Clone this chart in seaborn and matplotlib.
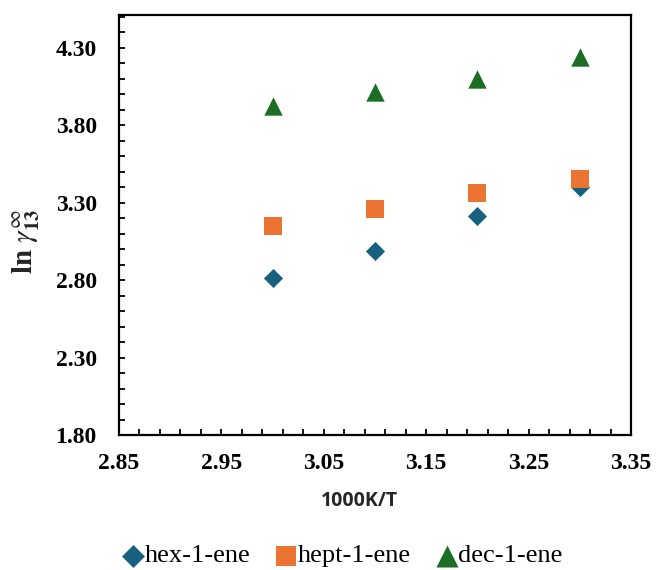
import matplotlib
matplotlib.use("Agg")
import matplotlib.pyplot as plt
from matplotlib.ticker import MultipleLocator, FormatStrFormatter
import seaborn as sns
import pandas as pd

# Reciprocal temperature, 1000 K / T
inv_T = [3.0, 3.1, 3.2, 3.3]

# ln(gamma_13 infinity) for each solute
hex_1_ene = [2.81, 2.99, 3.21, 3.40]
hept_1_ene = [3.15, 3.26, 3.36, 3.45]
dec_1_ene = [3.92, 4.01, 4.10, 4.24]

series = ["hex-1-ene", "hept-1-ene", "dec-1-ene"]

sns.set_theme(style="white")
plt.rcParams["font.family"] = ["Liberation Serif", "DejaVu Serif"]
plt.rcParams["mathtext.fontset"] = "stix"

frames = []
for name, vals in zip(series, [hex_1_ene, hept_1_ene, dec_1_ene]):
    frames.append(pd.DataFrame({"x": inv_T, "y": vals, "solute": name}))
df = pd.concat(frames, ignore_index=True)

styles = {
    "hex-1-ene": dict(marker="D", color="#17607F", s=95),
    "hept-1-ene": dict(marker="s", color="#EC7432", s=150),
    "dec-1-ene": dict(marker="^", color="#1B6E24", s=175),
}

fig = plt.figure(figsize=(6.56, 5.70), dpi=100)
ax = fig.add_axes([0.1814, 0.2368, 0.962 - 0.1814, 0.9737 - 0.2368])

for name in series:
    st = styles[name]
    sns.scatterplot(data=df[df["solute"] == name], x="x", y="y", ax=ax,
                    marker=st["marker"], color=st["color"], s=st["s"],
                    linewidth=0, label=name, legend=False)

ax.set_xlim(2.85, 3.35)
ax.set_ylim(1.80, 4.51)
ax.xaxis.set_major_locator(MultipleLocator(0.1, offset=0.05))
ax.xaxis.set_minor_locator(MultipleLocator(0.02, offset=0.01))
ax.yaxis.set_major_locator(MultipleLocator(0.5, offset=0.3))
ax.yaxis.set_minor_locator(MultipleLocator(0.1))
ax.xaxis.set_major_formatter(FormatStrFormatter("%.2f"))
ax.yaxis.set_major_formatter(FormatStrFormatter("%.2f"))

ax.tick_params(axis="both", which="both", direction="in", length=4,
               width=1.3, color="black", bottom=True, left=True, top=False,
               right=False)
ax.tick_params(axis="x", which="major", pad=13)
ax.tick_params(axis="y", which="major", pad=16)
for lab in ax.get_xticklabels() + ax.get_yticklabels():
    lab.set_fontsize(17)
    lab.set_fontweight("bold")
    lab.set_color("black")

for sp in ax.spines.values():
    sp.set_visible(True)
    sp.set_color("black")
    sp.set_linewidth(1.6)

ax.set_xlabel("1000K/T", fontsize=14, fontweight="bold",
              family=["Open Sans", "DejaVu Sans"], labelpad=12, x=0.47)
ax.set_ylabel(r"$\mathbf{ln}\ \gamma_{\mathbf{13}}^{\infty}$", fontsize=21,
              labelpad=10, y=0.46)

handles, labels = ax.get_legend_handles_labels()
fig.legend(handles, labels, loc="center", bbox_to_anchor=(0.52, 0.025),
           ncol=3, frameon=False, fontsize=19, handlelength=1.0,
           handletextpad=-0.05, columnspacing=0.85, markerscale=1.2,
           labelcolor="black")

fig.savefig("out.png", dpi=100)
